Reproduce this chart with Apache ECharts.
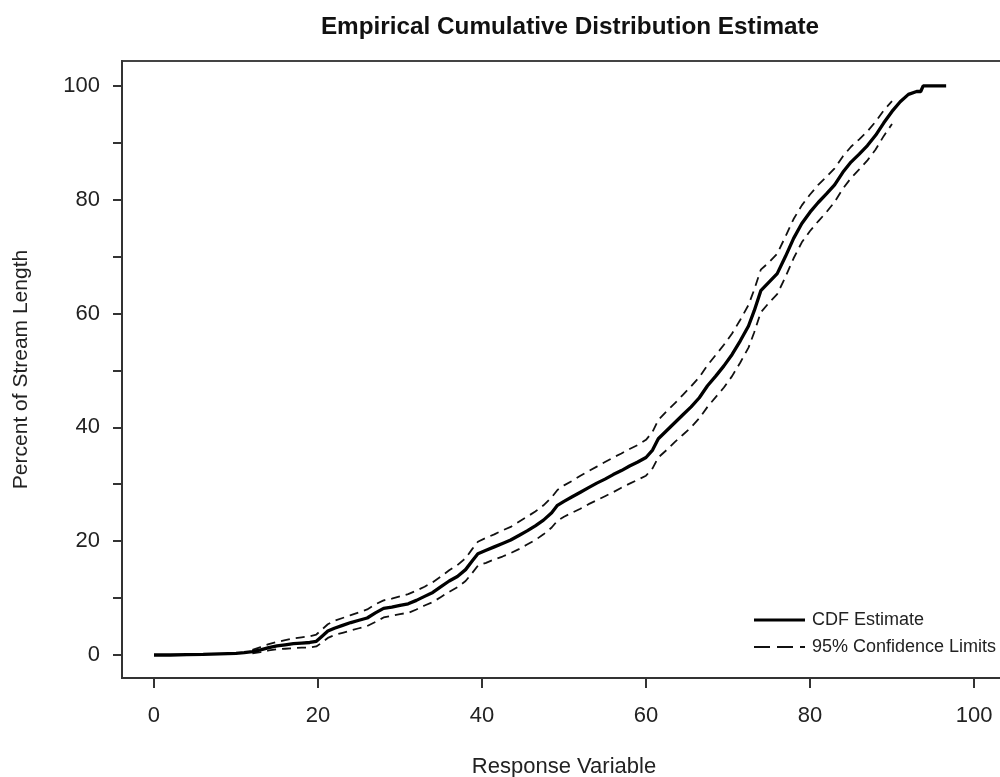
<!DOCTYPE html>
<html><head><meta charset="utf-8">
<script src="https://cdn.jsdelivr.net/npm/echarts@6/dist/echarts.min.js"></script>
<style>html,body{margin:0;padding:0;background:#fff}#c{width:1000px;height:777px}</style>
</head><body><div id="c"></div>
<script>
// CDF estimate
const cdfX = [0,2,4,6,8,10,11,12,13,14,15,16,17,18,19,19.8,20.5,21.2,22,23,24,25,26,27,28,29,30,31,32,33,34,35,36,37,38,38.8,39.5,40.5,41.5,42.5,43.5,44.5,45.5,46.5,47.5,48.5,49.2,50,51,52,53,54,55,56,57,58,59,60,60.8,61.5,62.5,63.5,64.5,65.5,66.5,67.5,68.5,69.5,70.5,71.5,72.5,73.2,74,75,76,77,78,79,80,81,82,83,84,85,86,87,88,89,90,91,92,93,93.5,93.8,96.6];
const cdfY = [0,0,0.05,0.1,0.2,0.3,0.4,0.6,0.9,1.3,1.6,1.8,2.0,2.1,2.2,2.4,3.3,4.2,4.7,5.2,5.7,6.1,6.5,7.4,8.2,8.4,8.7,9.0,9.6,10.3,11.0,12.0,13.0,13.8,15.0,16.5,17.8,18.4,19.0,19.6,20.2,21.0,21.8,22.7,23.7,25.0,26.3,27.0,27.8,28.6,29.4,30.2,30.9,31.7,32.4,33.2,33.9,34.7,36.0,38.0,39.4,40.8,42.2,43.6,45.2,47.3,49.0,50.8,52.8,55.2,57.8,60.5,64.0,65.5,67.0,70.0,73.2,75.8,77.8,79.5,81.0,82.6,84.8,86.6,88.0,89.5,91.3,93.5,95.5,97.2,98.5,99.0,99.0,100,100];
// 95% confidence limits
const ciX = [12,13,14,15,16,17,18,19,19.8,20.5,21.2,22,23,24,25,26,27,28,29,30,31,32,33,34,35,36,37,38,38.8,39.5,40.5,41.5,42.5,43.5,44.5,45.5,46.5,47.5,48.5,49.2,50,51,52,53,54,55,56,57,58,59,60,60.8,61.5,62.5,63.5,64.5,65.5,66.5,67.5,68.5,69.5,70.5,71.5,72.5,73.2,74,75,76,77,78,79,80,81,82,83,84,85,86,87,88,89,90];
const upperY = [0.9,1.4,1.9,2.3,2.6,2.9,3.1,3.3,3.6,4.5,5.4,6.0,6.5,7.0,7.5,8.0,8.9,9.6,9.9,10.3,10.7,11.3,12.0,12.8,13.8,14.9,15.8,17.0,18.6,19.9,20.6,21.2,21.9,22.5,23.4,24.3,25.2,26.3,27.7,29.0,29.8,30.6,31.5,32.3,33.1,33.9,34.7,35.4,36.2,36.9,37.8,39.2,41.3,42.8,44.2,45.7,47.2,48.8,50.9,52.7,54.5,56.5,58.9,61.5,64.2,67.7,69.0,70.5,73.5,76.6,79.0,80.9,82.6,84.0,85.5,87.6,89.3,90.6,92.0,93.7,95.7,97.3];
const lowerY = [0.3,0.5,0.8,1.0,1.1,1.2,1.3,1.3,1.5,2.2,3.0,3.5,3.9,4.3,4.7,5.1,5.8,6.6,6.9,7.2,7.4,8.0,8.7,9.3,10.2,11.1,11.9,13.0,14.4,15.7,16.2,16.8,17.3,17.9,18.6,19.4,20.2,21.2,22.4,23.6,24.3,25.0,25.7,26.5,27.2,27.9,28.6,29.4,30.1,30.8,31.5,32.8,34.7,36.0,37.4,38.7,40.0,41.6,43.6,45.3,47.0,49.0,51.4,54.0,56.7,60.2,61.9,63.4,66.4,69.7,72.5,74.5,76.2,77.8,79.6,81.9,83.8,85.3,86.9,88.8,91.2,93.3];
const xTicks = [0,20,40,60,80,100];
const yLabels = [0,20,40,60,80,100];
const yTicks = [0,10,20,30,40,50,60,70,80,90,100];

const zip = (xs, ys) => xs.map((x, i) => [x, ys[i]]);
const font = '"Liberation Sans", Arial, sans-serif';
const chart = echarts.init(document.getElementById('c'), null, {renderer: 'canvas'});
chart.setOption({
  animation: false,
  backgroundColor: '#fff',
  title: {
    text: 'Empirical Cumulative Distribution Estimate',
    left: 565, top: 10, textAlign: 'center',
    textStyle: {fontFamily: font, fontSize: 24.3, fontWeight: 'bold', color: '#111'}
  },
  grid: {left: 122, top: 61, right: -6, bottom: 99, show: true, borderColor: '#444', borderWidth: 2,
         containLabel: false, outerBoundsMode: 'none'},
  legend: {
    orient: 'vertical', left: 749, top: 606, itemWidth: 51, itemHeight: 3, itemGap: 9,
    textStyle: {fontFamily: font, fontSize: 18, color: '#222', padding: [0, 0, 0, 2]},
    data: [
      {name: 'CDF Estimate', icon: 'rect', itemStyle: {color: '#000'}},
      {name: '95% Confidence Limits', icon: 'path://M0,0h16v2h-16zM23,0h16v2h-16zM46,0h5v2h-5z', itemStyle: {color: '#111'}}
    ]
  },
  xAxis: {
    type: 'value', min: -3.9, max: 103.9,
    name: 'Response Variable', nameLocation: 'middle', nameGap: 78,
    nameTextStyle: {fontFamily: font, fontSize: 22, color: '#222'},
    axisLine: {show: true, onZero: false, lineStyle: {color: '#333', width: 2}},
    axisTick: {show: true, length: 10, customValues: xTicks, lineStyle: {color: '#333', width: 2}},
    axisLabel: {customValues: xTicks, margin: 27, fontFamily: font, fontSize: 22, color: '#222'},
    splitLine: {show: false}
  },
  yAxis: {
    type: 'value', min: -4.04, max: 104.36,
    name: 'Percent of Stream Length', nameLocation: 'middle', nameGap: 90, nameRotate: 90,
    nameTextStyle: {fontFamily: font, fontSize: 21, color: '#222'},
    axisLine: {show: true, onZero: false, lineStyle: {color: '#333', width: 2}},
    axisTick: {show: true, length: 9, customValues: yTicks, lineStyle: {color: '#333', width: 2}},
    axisLabel: {customValues: yLabels, margin: 22, fontFamily: font, fontSize: 22, color: '#222'},
    splitLine: {show: false}
  },
  series: [
    {name: 'CDF Estimate', type: 'line', data: zip(cdfX, cdfY), symbol: 'none', showSymbol: false,
     lineStyle: {color: '#000', width: 3.3}, itemStyle: {color: '#000'}, z: 3},
    {name: '95% Confidence Limits', type: 'line', data: zip(ciX, upperY), symbol: 'none', showSymbol: false,
     lineStyle: {color: '#111', width: 1.8, type: [9, 6]}, itemStyle: {color: '#111'}, z: 2},
    {name: '95% Confidence Limits', type: 'line', data: zip(ciX, lowerY), symbol: 'none', showSymbol: false,
     lineStyle: {color: '#111', width: 1.8, type: [9, 6]}, itemStyle: {color: '#111'}, z: 2}
  ]
});
</script></body></html>
